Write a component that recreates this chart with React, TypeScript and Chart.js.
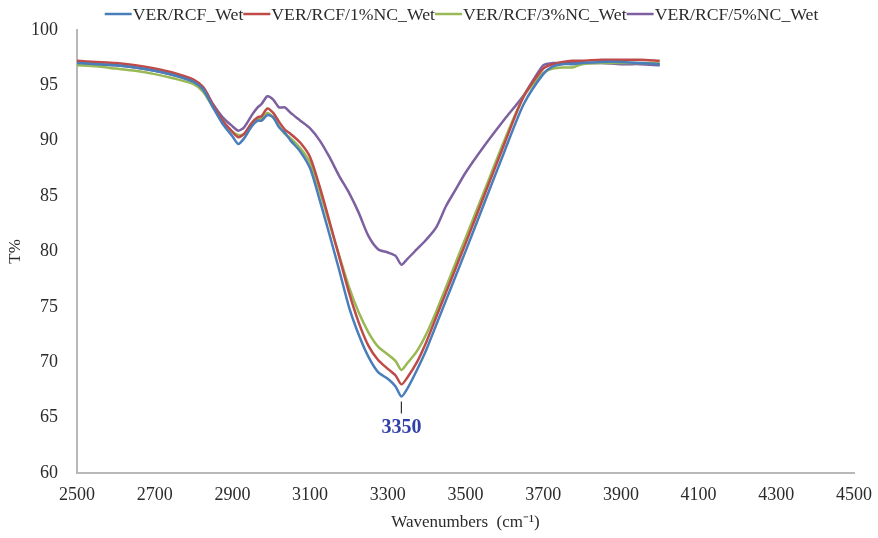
import React, { useEffect, useRef } from "react";
import { Chart, registerables } from "chart.js";

Chart.register(...registerables);

const wavenumbers = [
  2500, 2550, 2600, 2650, 2700, 2750, 2800, 2825, 2850, 2875,
  2900, 2915, 2930, 2950, 2965, 2975, 2990, 3005, 3020, 3035,
  3050, 3075, 3100, 3125, 3150, 3175, 3200, 3225, 3250, 3275,
  3300, 3320, 3335, 3350, 3375, 3400, 3425, 3450, 3475, 3500,
  3550, 3600, 3650, 3700, 3725, 3750, 3775, 3800, 3850, 3900, 3950, 4000,
];

const seriesNames = [
  "VER/RCF_Wet",
  "VER/RCF/1%NC_Wet",
  "VER/RCF/3%NC_Wet",
  "VER/RCF/5%NC_Wet",
];

const seriesColors = ["#4a7ebb", "#be4b48", "#98b954", "#7d60a0"];

const wetValues = [
  97.0, 96.9, 96.8, 96.6, 96.3, 95.9, 95.3, 94.6, 93.0, 91.5,
  90.4, 89.7, 90.2, 91.3, 91.8, 91.8, 92.3, 92.1, 91.2, 90.7,
  90.0, 89.0, 87.5, 84.6, 81.5, 78.3, 75.0, 72.5, 70.5, 69.1,
  68.5, 67.8, 66.9, 67.6, 69.3, 71.2, 73.4, 75.6, 77.8, 80.0,
  84.5, 89.0, 93.3, 96.0, 96.7, 96.9, 96.9, 97.0, 97.1, 97.1, 97.0, 96.9,
];

const nc1Values = [
  97.2, 97.1, 97.0, 96.8, 96.5, 96.1, 95.5, 94.8, 93.2, 91.8,
  90.8, 90.3, 90.6, 91.6, 92.1, 92.2, 92.9, 92.5, 91.7, 91.0,
  90.6, 89.8, 88.5, 85.8, 82.7, 79.5, 76.3, 73.6, 71.5, 70.2,
  69.4, 68.8, 68.0, 68.6, 70.0, 71.9, 74.1, 76.3, 78.5, 80.7,
  85.2, 89.7, 94.0, 96.5, 96.9, 97.1, 97.2, 97.2, 97.3, 97.3, 97.3, 97.2,
];

const nc3Values = [
  96.8, 96.7, 96.5, 96.3, 96.0, 95.6, 95.1, 94.4, 93.0, 91.7,
  90.8, 90.5, 90.6, 91.5, 91.9, 92.0, 92.5, 92.1, 91.3, 90.6,
  90.2, 89.3, 88.0, 85.4, 82.5, 79.6, 76.8, 74.5, 72.7, 71.4,
  70.7, 70.1, 69.3, 69.9, 71.0, 72.6, 74.6, 76.8, 79.0, 81.2,
  85.6, 90.0, 94.0, 96.1, 96.5, 96.6, 96.6, 96.9, 97.0, 97.0, 97.0, 97.0,
];

const nc5Values = [
  97.0, 96.9, 96.8, 96.6, 96.3, 95.9, 95.4, 94.8, 93.3, 92.1,
  91.3, 90.9, 91.2, 92.3, 93.0, 93.3, 94.0, 93.7, 93.0, 93.0,
  92.5, 91.8, 91.1, 90.0, 88.5, 86.8, 85.3, 83.5, 81.4, 80.2,
  79.9, 79.6, 78.8, 79.3, 80.2, 81.1, 82.2, 84.1, 85.6, 87.1,
  89.6, 91.9, 94.1, 96.8, 97.0, 97.0, 97.0, 97.0, 97.0, 96.9, 96.9, 96.8,
];

const allSeries = [wetValues, nc1Values, nc3Values, nc5Values];

const xTickMin = 2500;
const xTickMax = 4500;
const xTickStep = 200;
const yTickMin = 60;
const yTickMax = 100;
const yTickStep = 5;

const annotationLabel = "3350";
const annotationX = 3335;
const annotationY = 66.9;

const SERIF = '"Times New Roman", "Liberation Serif", serif';

const legendPlugin = {
  id: "topLegend",
  afterDraw(chart: any) {
    const ctx = chart.ctx;
    const lineLen = 27;
    const gap = 1;
    ctx.save();
    ctx.font = `17.7px ${SERIF}`;
    const items = chart.data.datasets.map((ds: any) => ({
      label: ds.label,
      color: ds.borderColor,
      w: lineLen + gap + ctx.measureText(ds.label).width,
    }));
    const total = items.reduce((s: number, it: any) => s + it.w, 0);
    const center = (chart.chartArea.left + chart.chartArea.right) / 2 - 4;
    let x = center - total / 2;
    const y = 14;
    items.forEach((it: any) => {
      ctx.strokeStyle = it.color;
      ctx.lineWidth = 2.5;
      ctx.beginPath();
      ctx.moveTo(x, y);
      ctx.lineTo(x + lineLen, y);
      ctx.stroke();
      ctx.fillStyle = "#2b2b2b";
      ctx.textBaseline = "middle";
      ctx.textAlign = "left";
      ctx.fillText(it.label, x + lineLen + gap, y + 1);
      x += it.w;
    });
    ctx.restore();
  },
};

const annotationPlugin = {
  id: "peakLabel",
  afterDatasetsDraw(chart: any) {
    const ctx = chart.ctx;
    const px = chart.scales.x.getPixelForValue(annotationX);
    const py = chart.scales.y.getPixelForValue(annotationY);
    ctx.save();
    ctx.strokeStyle = "#333";
    ctx.lineWidth = 1.2;
    ctx.beginPath();
    ctx.moveTo(px, py + 5);
    ctx.lineTo(px, py + 17);
    ctx.stroke();
    ctx.font = `bold 20px ${SERIF}`;
    ctx.fillStyle = "#3040a8";
    ctx.textAlign = "center";
    ctx.textBaseline = "middle";
    ctx.fillText(annotationLabel, px, py + 31);
    ctx.restore();
  },
};

export default function App() {
  const canvasRef = useRef<HTMLCanvasElement | null>(null);

  useEffect(() => {
    document.body.style.margin = "0";
    const canvas = canvasRef.current;
    if (!canvas) return;
    const datasets = allSeries.map((vals, i) => ({
      label: seriesNames[i],
      data: wavenumbers.map((w, j) => ({ x: w, y: vals[j] })),
      borderColor: seriesColors[i],
      backgroundColor: seriesColors[i],
      borderWidth: 2.5,
      pointRadius: 0,
      tension: 0.25,
      fill: false,
    }));
    const chart = new Chart(canvas, {
      type: "line",
      data: { datasets },
      options: {
        responsive: false,
        animation: false,
        devicePixelRatio: 1,
        layout: { padding: { top: 23, right: 24, left: 0, bottom: 0 } },
        plugins: {
          legend: { display: false },
          tooltip: { enabled: false },
        },
        scales: {
          x: {
            type: "linear",
            min: xTickMin,
            max: xTickMax,
            afterFit: (s: any) => {
              s.height = 65;
              s.paddingRight = 0;
              s.paddingLeft = 0;
            },
            ticks: {
              stepSize: xTickStep,
              padding: 11,
              color: "#2b2b2b",
              font: { family: SERIF, size: 18 },
              maxRotation: 0,
              callback: (v: any) => String(v),
            },
            grid: { display: true, drawOnChartArea: false, drawTicks: false },
            border: { display: true, color: "#b8b8b8", width: 2 },
            title: {
              display: true,
              text: "Wavenumbers  (cm\u207B\u00B9)",
              color: "#2b2b2b",
              font: { family: SERIF, size: 17 },
              padding: { top: 0, bottom: 5 },
            },
          },
          y: {
            min: yTickMin,
            max: yTickMax,
            afterFit: (s: any) => {
              s.width = 77;
            },
            ticks: {
              stepSize: yTickStep,
              padding: 19,
              color: "#2b2b2b",
              font: { family: SERIF, size: 18 },
            },
            grid: { display: true, drawOnChartArea: false, drawTicks: false },
            border: { display: true, color: "#b8b8b8", width: 2 },
            title: {
              display: true,
              text: "T%",
              color: "#2b2b2b",
              font: { family: SERIF, size: 17 },
              padding: { top: 5, bottom: 0 },
            },
          },
        },
      },
      plugins: [legendPlugin, annotationPlugin],
    });
    return () => chart.destroy();
  }, []);

  return (
    <div style={{ width: 878, height: 538, background: "#fff" }}>
      <canvas ref={canvasRef} width={878} height={538} />
    </div>
  );
}
